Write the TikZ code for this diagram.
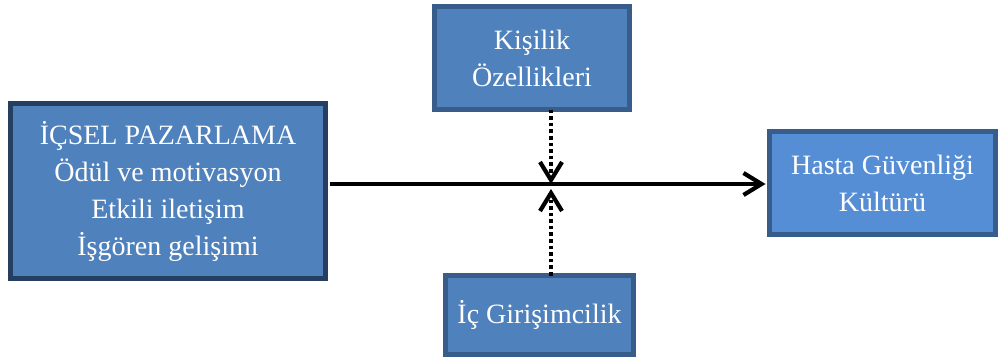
\documentclass[tikz,border=0pt]{standalone}
\usepackage{fontspec}
\setmainfont{Liberation Serif}
\usetikzlibrary{calc}
\definecolor{boxfill}{HTML}{4F81BD}
\definecolor{boxfillb}{HTML}{558ED5}
\definecolor{navy}{HTML}{243F60}
\definecolor{edge}{HTML}{385D8A}
\tikzset{
  box/.style={draw=edge, fill=boxfill, line width=5pt, inner sep=0pt, outer sep=0pt,
    text=white, align=center, font=\fontsize{28}{37}\selectfont},
  flow/.style={line width=3.6pt},
  chev/.style={line width=4.2pt, line join=miter, line cap=butt},
  dotline/.style={line width=3.8pt, dash pattern=on 3.6pt off 3pt}
}
\begin{document}
\begin{tikzpicture}[x=1pt,y=-1pt]
\useasboundingbox (0,0) rectangle (998,360);
\node[box, draw=navy, minimum width=315pt, minimum height=175pt] (left) at (168,191)
  {İÇSEL PAZARLAMA\\Ödül ve motivasyon\\Etkili iletişim\\İşgören gelişimi};
\node[box, minimum width=195pt, minimum height=103pt] (top) at (532,58)
  {Kişilik\\Özellikleri};
\node[box, minimum width=188pt, minimum height=79pt] (bottom) at (539.5,315)
  {İç Girişimcilik};
\node[box, fill=boxfillb, minimum width=226pt, minimum height=103pt] (right) at (882.5,183)
  {Hasta Güvenliği\\Kültürü};
\coordinate (start) at (330,184);
\coordinate (cross) at (551,184);
\coordinate (tipR) at ($(start -| right.west)+(-8,0)$);
\coordinate (tipT) at ($(cross)+(0,-4)$);
\coordinate (tipB) at ($(cross)+(0,9)$);
% main effect
\draw[flow] (start) -- (tipR);
\draw[chev] ($(tipR)+(-18,-11)$) -- (tipR) -- ($(tipR)+(-18,11)$);
% moderator from above
\draw[dotline] (top.south -| cross) -- ($(tipT)+(0,-3)$);
\draw[chev] ($(tipT)+(-11,-18)$) -- (tipT) -- ($(tipT)+(11,-18)$);
% moderator from below
\draw[dotline] (bottom.north -| cross) -- ($(tipB)+(0,7)$);
\draw[chev] ($(tipB)+(-11,18)$) -- (tipB) -- ($(tipB)+(11,18)$);
\end{tikzpicture}
\end{document}
